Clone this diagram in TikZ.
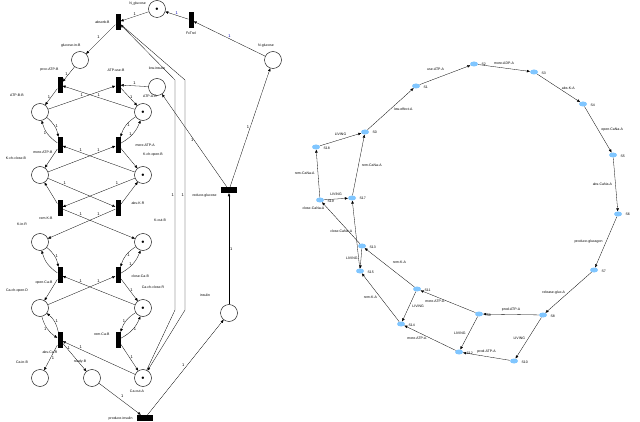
\documentclass[tikz,border=0pt]{standalone}
\usetikzlibrary{arrows.meta,shapes.geometric}
\usepackage{fontspec}
\setmainfont{Liberation Sans}
\begin{document}
\begin{tikzpicture}[x=1pt,y=-1pt,
 pl/.style={circle,draw,minimum size=17pt,inner sep=0pt},
 tok/.style={pl,label={center:\tiny$\bullet$}},
 tr/.style={fill=black,minimum width=5pt,minimum height=16pt,inner sep=0pt},
 trh/.style={fill=black,minimum width=16pt,minimum height=6pt,inner sep=0pt},
 lb/.style={font=\fontsize{3.5}{4}\selectfont},
 st/.style={ellipse,fill=blue!45!cyan!50,minimum width=8pt,minimum height=5pt,inner sep=0pt},
 ar/.style={draw,-{Triangle[length=3pt,width=2.5pt]},line width=0.3pt},
 w/.style={font=\fontsize{4}{4}\selectfont,inner sep=1pt}]
\useasboundingbox (0,0) rectangle (640,422);
% Petri net
\node[tok] (Ng) at (157,9) {}; \node[lb,left,inner sep=1pt] at (147,4) {N\_glucose};
\node[tr] (abs) at (118,22) {}; \node[lb,left] at (113,22) {absorb-B};
\node[tr] (fx) at (191,20) {}; \node[lb,below] at (191,28) {FxTrel};
\node[pl] (NG) at (273,60) {}; \node[lb,above] at (266,51) {N-glucose};
\node[pl] (gin) at (80,60) {}; \node[lb,above left] at (84,51) {glucose-in-B};
\node[tr] (pATP) at (60,85) {}; \node[lb,above left] at (62,75) {proc-ATP-B};
\node[tr] (uATP) at (118,85) {}; \node[lb,above] at (116,75) {ATP-use-B};
\node[pl] (low) at (157,87) {}; \node[lb,above] at (157,73) {low-insulin};
\node[pl] (atpB) at (40,112) {}; \node[lb,above] at (17,100) {ATP-B-B};
\node[tok] (atpA) at (143,112) {}; \node[lb,above] at (150,101) {ATP-A-B};
\node[tr] (mB) at (60,145) {}; \node[lb,left] at (56,152) {more-ATP-B};
\node[tr] (mA) at (118,145) {}; \node[lb,right] at (132,145) {more-ATP-A};
\node[pl] (kcB) at (40,175) {}; \node[lb,above] at (16,163) {K-ch-close-B};
\node[tok] (koA) at (143,175) {}; \node[lb,above] at (153,160) {K-ch-open-B};
\node[tr] (rK) at (60,208) {}; \node[lb,left] at (56,218) {rem-K-B};
\node[tr] (aK) at (118,208) {}; \node[lb,right] at (128,203) {abs-K-R};
\node[pl] (kin) at (40,242) {}; \node[lb,above] at (22,229) {K-in-R};
\node[tok] (kout) at (143,242) {}; \node[lb,above] at (160,225) {K-out-B};
\node[tr] (oCa) at (60,275) {}; \node[lb,left] at (56,283) {open-Ca-B};
\node[tr] (cCa) at (118,275) {}; \node[lb,right] at (128,276) {close-Ca-B};
\node[pl] (cao) at (40,308) {}; \node[lb,above] at (17,296) {Ca-ch-open-D};
\node[tok] (cac) at (143,308) {}; \node[lb,above] at (153,292) {Ca-ch-close-R};
\node[tr] (aCa) at (60,340) {}; \node[lb,below] at (50,347) {abs-Ca-R};
\node[tr] (rCa) at (118,340) {}; \node[lb,left] at (113,334) {rem-Ca-B};
\node[pl] (cin) at (40,378) {}; \node[lb,above] at (22,367) {Ca-in-B};
\node[pl] (rdy) at (92,378) {}; \node[lb,above] at (80,367) {ready-B};
\node[tok] (cout) at (143,378) {}; \node[lb,below] at (137,387) {Ca-out-A};
\node[trh] (pins) at (145,418) {}; \node[lb,left] at (136,419) {produce-insulin};
\node[trh] (rgl) at (229,190) {}; \node[lb,left] at (220,196) {reduce-glucose};
\node[pl] (ins) at (229,313) {}; \node[lb,above] at (205,300) {insulin};
\coordinate (u1) at (175,310); \coordinate (u2) at (175,80);
\coordinate (v1) at (185,80); \coordinate (v2) at (185,310);
\begin{scope}[every node/.style={w}]
\draw[ar] (Ng) -- node[above]{1} (abs);
\draw[ar] (abs) -- node[above left]{1} (gin);
\draw[ar] (gin) -- node[left]{1} (pATP);
\draw[ar] (pATP) -- node[left]{1} (atpB);
\draw[ar] (atpA) -- node[above]{1} (pATP);
\draw[ar] (atpB) -- node[above]{1} (uATP);
\draw[ar] (low) -- node[above]{1} (uATP);
\draw[ar] (uATP) -- node[right]{1} (atpA);
\draw[ar] (mB) to[bend left=20] node[left]{1} (atpB);
\draw[ar] (atpB) to[bend left=20] node[right]{1} (mB);
\draw[ar] (mA) to[bend right=20] node[left]{1} (atpA);
\draw[ar] (atpA) to[bend right=20] node[right]{1} (mA);
\draw[ar] (mB) -- (kcB); \draw[ar] (koA) -- node[near end,above]{1} (mB);
\draw[ar] (kcB) -- node[near end,above]{1} (mA); \draw[ar] (mA) -- (koA);
\draw[ar] (kcB) -- node[near start,above]{1} (aK); \draw[ar] (koA) -- node[near start,above]{1} (rK);
\draw[ar] (rK) -- (kcB); \draw[ar] (aK) -- (koA);
\draw[ar] (rK) -- node[near start,above]{1} (kout); \draw[ar] (aK) -- node[near start,above]{1} (kin);
\draw[ar] (kin) to[bend left=20] node[right]{1} (oCa); \draw[ar] (oCa) to[bend left=20] (kin);
\draw[ar] (cCa) to[bend right=20] node[left]{1} (kout); \draw[ar] (kout) to[bend right=20] node[right]{1} (cCa);
\draw[ar] (oCa) -- (cao); \draw[ar] (cac) -- node[near end,above]{1} (oCa);
\draw[ar] (cao) -- node[near end,above]{1} (cCa); \draw[ar] (cCa) -- node[right]{1} (cac);
\draw[ar] (cao) to[bend right=20] node[left]{1} (aCa); \draw[ar] (aCa) to[bend right=20] node[right]{1} (cao);
\draw[ar] (cac) to[bend right=20] node[left]{1} (rCa); \draw[ar] (rCa) to[bend right=20] node[right]{1} (cac);
\draw[ar] (aCa) -- node[right]{1} (cin); \draw[ar] (aCa) -- node[near start,above]{1} (rdy);
\draw[ar] (cout) -- node[near end,above]{1} (aCa); \draw[ar] (rCa) -- node[right]{1} (cout);
\draw[ar] (rdy) -- node[above right]{1} (pins);
\draw[ar] (pins) -- node[above left]{1} (ins);
\draw[ar] (ins) -- node[right]{1} (rgl);
\draw[ar] (rgl) -- node[left]{1} (low);
\draw[ar] (rgl) -- node[left]{1} (NG);
\draw[ar] (NG) -- node[above,text=blue!70!black]{1} (fx);
\draw[ar] (fx) -- node[above,text=blue!70!black]{1} (Ng);
\draw[ar] (cout) -- (u1) -- node[left]{1} (u2) -- (abs);
\draw[ar] (abs) -- (v1) -- node[left]{1} (v2) -- (cout);
\end{scope}
% State graph
\node[st] (S2) at (474,64) {}; \node[lb,right] at (478,64) {S2};
\node[st] (S3) at (534,72) {}; \node[lb,right] at (538,73) {S3};
\node[st] (S1) at (416,86) {}; \node[lb,right] at (420,87) {S1};
\node[st] (S4) at (583,104) {}; \node[lb,right] at (587,105) {S4};
\node[st] (S0) at (365,132) {}; \node[lb,right] at (369,132) {S0};
\node[st] (S5) at (613,155) {}; \node[lb,right] at (617,156) {S5};
\node[st] (S18) at (316,147) {}; \node[lb,right] at (320,148) {S18};
\node[st] (S17) at (352,198) {}; \node[lb,right] at (356,198) {S17};
\node[st] (S19) at (320,200) {}; \node[lb,right] at (324,201) {S19};
\node[st] (S6) at (618,214) {}; \node[lb,right] at (622,214) {S6};
\node[st] (S13) at (362,246) {}; \node[lb,right] at (366,247) {S13};
\node[st] (S15) at (360,271) {}; \node[lb,right] at (364,272) {S15};
\node[st] (S7) at (594,270) {}; \node[lb,right] at (598,271) {S7};
\node[st] (S11) at (417,289) {}; \node[lb,right] at (421,290) {S11};
\node[st] (S14) at (401,324) {}; \node[lb,right] at (405,325) {S14};
\node[st] (S9) at (479,314) {}; \node[lb,right] at (483,315) {S9};
\node[st] (S8) at (543,315) {}; \node[lb,right] at (547,316) {S8};
\node[st] (S12) at (459,352) {}; \node[lb,right] at (463,353) {S12};
\node[st] (S10) at (514,361) {}; \node[lb,right] at (518,362) {S10};
\begin{scope}[every node/.style={lb}]
\draw[ar] (S1) -- node[pos=.55,above left]{use-ATP-A} (S2);
\draw[ar] (S2) -- node[above]{more-ADP-A} (S3);
\draw[ar] (S3) -- node[right]{abs-K-A} (S4);
\draw[ar] (S4) -- node[right]{open-CaNa-A} (S5);
\draw[ar] (S5) -- node[left]{abs-CaNa-A} (S6);
\draw[ar] (S6) -- node[left]{produce-glucagon} (S7);
\draw[ar] (S7) -- node[left]{release-gluc-A} (S8);
\draw[ar] (S8) -- node[above]{prod-ATP-A} (S9);
\draw[ar] (S8) -- node[left]{LIVING} (S10);
\draw[ar] (S10) -- node[above]{prod-ATP-A} (S12);
\draw[ar] (S9) -- node[left]{LIVING} (S12);
\draw[ar] (S9) -- node[left]{more-ATP-A} (S11);
\draw[ar] (S12) -- node[left]{more-ATP-A} (S14);
\draw[ar] (S11) -- node[right]{LIVING} (S14);
\draw[ar] (S11) -- node[above right]{rem-K-A} (S13);
\draw[ar] (S14) -- node[left]{rem-K-A} (S15);
\draw[ar] (S13) -- node[left]{LIVING} (S15);
\draw[ar] (S13) -- node[left,pos=.85]{close-CaNa-A} (S19);
\draw[ar] (S15) -- node[left,pos=.55]{close-CaNa-A} (S17);
\draw[ar] (S19) -- node[left]{rem-CaNa-A} (S18);
\draw[ar] (S17) -- node[right]{rem-CaNa-A} (S0);
\draw[ar] (S18) -- node[above]{LIVING} (S0);
\draw[ar] (S19) -- node[above]{LIVING} (S17);
\draw[ar] (S0) -- node[right]{low-effect-A} (S1);
\end{scope}
\end{tikzpicture}
\end{document}
